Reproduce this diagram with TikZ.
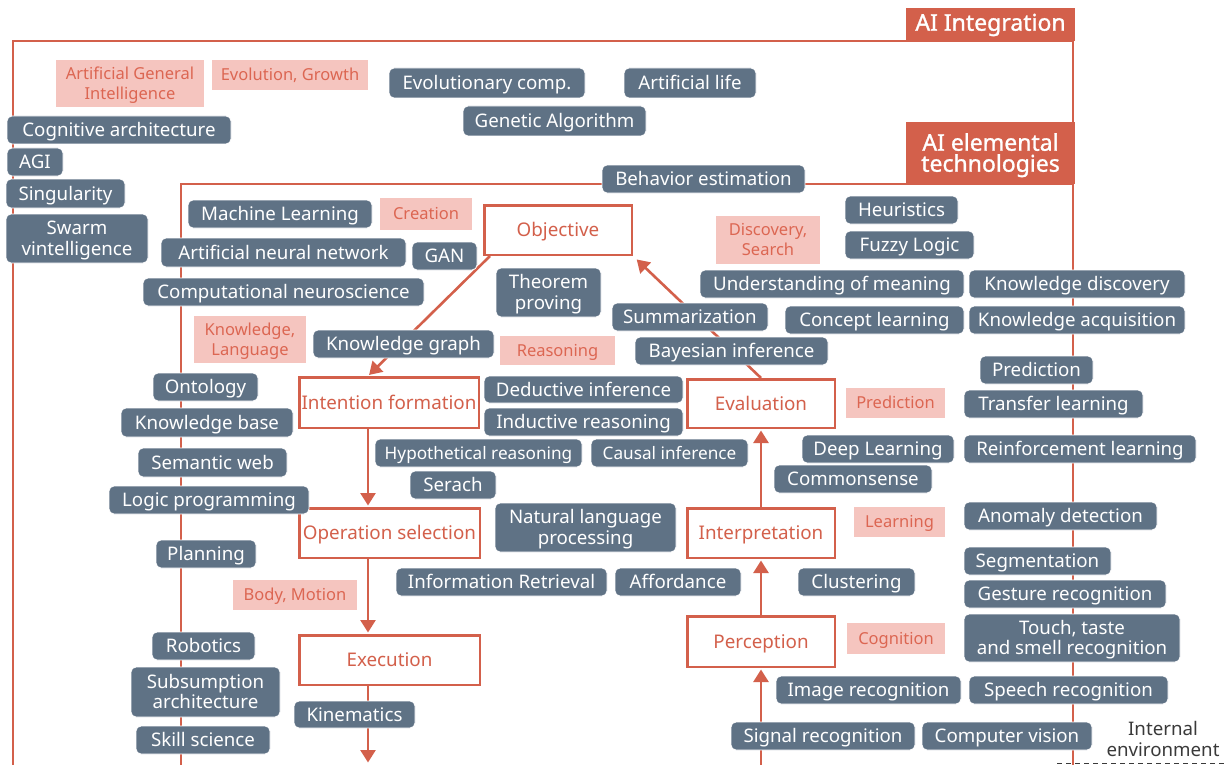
\documentclass[tikz,border=0pt]{standalone}
\usepackage{fontspec}
\setmainfont{Noto Sans}
\newfontfamily\headfamily{Noto Sans}[FakeBold=1.2]
\usetikzlibrary{arrows.meta,calc}
\definecolor{accent}{HTML}{D3604B}
\definecolor{boxgray}{HTML}{5F7285}
\definecolor{cuepink}{HTML}{F5C5BF}
\definecolor{cuetext}{HTML}{DC6652}
\definecolor{envtext}{HTML}{3A3A3A}
\newcommand{\tagfont}{\fontsize{18.7}{20.5}\selectfont}
\newcommand{\tightfont}{\fontsize{17.2}{20.5}\selectfont}
\newcommand{\cuefont}{\fontsize{16.5}{20}\selectfont}
\newcommand{\stagefont}{\fontsize{18.8}{20}\selectfont}
\newcommand{\headfont}{\headfamily\fontsize{23}{21}\selectfont}
\tikzset{
  sz/.style 2 args={minimum width=#1pt, minimum height=#2pt},
  % the text box is cut to the caps so that they sit in the middle;
  % for two lines the box reaches from the caps of the first line to the last baseline
  caps/.style={text height=#1, text depth=0pt},
  tag/.style={fill=boxgray, draw=white, line width=0.8pt, rounded corners=5pt,
    text=white, font=\tagfont, inner sep=0pt, align=center, caps=13.4pt},
  tag2/.style={tag, caps=33.9pt},
  cue/.style={fill=cuepink, text=cuetext, font=\cuefont, inner sep=0pt, align=center, caps=11.8pt},
  cue2/.style={cue, caps=31.8pt},
  stage/.style={draw=accent, line width=2.5pt, fill=white, text=accent,
    font=\stagefont, inner sep=0pt, align=center, caps=13.4pt},
  flow/.style={draw=accent, line width=2.6pt, -{Triangle[length=12.5pt,width=15pt]},
    shorten >=1.5pt},
  frame/.style={draw=accent, line width=2.5pt},
  header/.style={fill=accent, text=white, font=\headfont, inner sep=0pt, align=center},
}
\begin{document}
\begin{tikzpicture}[x=1pt,y=-1pt]
\useasboundingbox (0,0) rectangle (1226,765);

% nested frames: integration (outer) and elemental technologies (inner)
\draw[frame] (13,766) |- (1073,41) -- (1073,766);
\draw[frame] (181,766) |- (1073,184);
\node[header, sz={169}{33}, text height=16.4pt, text depth=4pt] (hint) at (990.5,24.5) {AI Integration};
\node[header, sz={169}{62}, caps=37.4pt] (helem) at (990.5,153) {AI elemental\\technologies};

% process stages
\node[stage, sz={147.5}{49.5}] (objective) at (558,230) {Objective};
\node[stage, sz={179.5}{50.5}] (intention) at (389,402.5) {Intention formation};
\node[stage, sz={147.5}{48.5}] (evaluation) at (761,403.5) {Evaluation};
\node[stage, sz={180.5}{49.5}] (operation) at (389.5,533) {Operation selection};
\node[stage, sz={147.5}{49.5}] (interpretation) at (761,533) {Interpretation};
\node[stage, sz={147.5}{50.5}] (perception) at (761,641.5) {Perception};
\node[stage, sz={180.5}{49.5}] (execution) at (389.5,660) {Execution};

\coordinate (sensein) at (761,766);
\coordinate (actout) at (368,764);

% flow of the cycle (drawn under the technology tags)
\draw[flow] ($(objective.south west)+(7,0)$) -- ($(intention.north west)+(70,0)$);
\draw[flow] ($(intention.south west)+(70,0)$) -- ($(operation.north west)+(70,0)$);
\draw[flow] ($(operation.south west)+(70,0)$) -- ($(execution.north west)+(70,0)$);
\draw[flow] ($(execution.south west)+(70,0)$) -- (actout);
\draw[flow] (sensein) -- (perception.south);
\draw[flow] (perception.north) -- (interpretation.south);
\draw[flow] (interpretation.north) -- (evaluation.south);
\draw[flow, shorten >=5pt] (evaluation.north) -- (objective.south east);

% category cues
\node[cue2, sz={148}{47}] (cagi) at (130,83.5) {Artificial General\\Intelligence};
\node[cue, sz={156}{30}] (cevo) at (290,75) {Evolution, Growth};
\node[cue, sz={92}{32}] (ccreation) at (426,214) {Creation};
\node[cue2, sz={104}{48}] (cdiscovery) at (768,240) {Discovery,\\Search};
\node[cue2, sz={112}{47}] (cknow) at (250,339.5) {Knowledge,\\Language};
\node[cue, sz={115}{29}] (creason) at (557.5,350.5) {Reasoning};
\node[cue, sz={99}{30}] (cpredict) at (895.5,403) {Prediction};
\node[cue, sz={91}{30}] (clearn) at (899.5,522) {Learning};
\node[cue, sz={124}{30}] (cbody) at (295,595) {Body, Motion};
\node[cue, sz={98}{31}] (ccognition) at (896,638.5) {Cognition};

% technology tags
\node[tag, sz={196}{30}] (evocomp) at (487,83) {Evolutionary comp.};
\node[tag, sz={132}{30}] (alife) at (690,83) {Artificial life};
\node[tag, sz={183}{30}] (genetic) at (554.5,121) {Genetic Algorithm};
\node[tag, sz={224}{28}] (cogarch) at (119,130) {Cognitive architecture};
\node[tag, sz={56}{28}] (agi) at (35,162) {AGI};
\node[tag, sz={119}{29}] (singularity) at (65.5,193.5) {Singularity};
\node[tag2, sz={142}{49}] (swarm) at (77,238.5) {Swarm\\vintelligence};
\node[tag, sz={203}{28}] (behavior) at (703.5,179) {Behavior estimation};
\node[tag, sz={184}{28}] (ml) at (280,214) {Machine Learning};
\node[tag, sz={113}{28}] (heuristics) at (901.5,210) {Heuristics};
\node[tag, sz={129}{28}] (fuzzy) at (909.5,245) {Fuzzy Logic};
\node[tag, sz={245}{29}] (ann) at (283.5,252.5) {Artificial neural network};
\node[tag, sz={65}{28}] (gan) at (444.5,256) {GAN};
\node[tag, sz={281}{28}] (compneuro) at (283.5,292) {Computational neuroscience};
\node[tag2, sz={105}{49}] (theorem) at (548.5,292.5) {Theorem\\proving};
\node[tag, sz={264}{28}] (meaning) at (832,284) {Understanding of meaning};
\node[tag, sz={216}{28}] (kdiscovery) at (1077,284) {Knowledge discovery};
\node[tag, sz={156}{28}] (summarization) at (690,317) {Summarization};
\node[tag, sz={179}{28}] (concept) at (874.5,320) {Concept learning};
\node[tag, sz={216}{28}] (kacquisition) at (1077,320) {Knowledge acquisition};
\node[tag, sz={181}{28}] (kgraph) at (403.5,344) {Knowledge graph};
\node[tag, sz={193}{28}] (bayes) at (731.5,351) {Bayesian inference};
\node[tag, sz={105}{28}] (ontology) at (205.5,387) {Ontology};
\node[tag, sz={199}{27}] (deductive) at (583.5,389.5) {Deductive inference};
\node[tag, sz={113}{28}] (prediction) at (1036.5,370) {Prediction};
\node[tag, sz={179}{28}] (transfer) at (1053.5,404) {Transfer learning};
\node[tag, sz={172}{29}] (kbase) at (207,422.5) {Knowledge base};
\node[tag, sz={199}{28}] (inductive) at (583.5,422) {Inductive reasoning};
\node[tag, sz={207}{28}, font=\tightfont] (hypothetical) at (478.5,453) {Hypothetical reasoning};
\node[tag, sz={157}{28}, font=\tightfont] (causal) at (669.5,453) {Causal inference};
\node[tag, sz={152}{28}] (deep) at (878,449) {Deep Learning};
\node[tag, sz={232}{28}] (reinforcement) at (1080,449) {Reinforcement learning};
\node[tag, sz={149}{29}] (semweb) at (212.5,462.5) {Semantic web};
\node[tag, sz={158}{28}] (commonsense) at (853,479) {Commonsense};
\node[tag, sz={86}{28}] (serach) at (453,485) {Serach};
\node[tag, sz={200}{28}] (logicprog) at (209,500) {Logic programming};
\node[tag2, sz={181}{49}] (nlp) at (585.5,527.5) {Natural language\\processing};
\node[tag, sz={193}{28}] (anomaly) at (1060.5,516) {Anomaly detection};
\node[tag, sz={100}{28}] (planning) at (206,554) {Planning};
\node[tag, sz={147}{28}] (segmentation) at (1037.5,561) {Segmentation};
\node[tag, sz={211}{28}] (retrieval) at (501.5,582) {Information Retrieval};
\node[tag, sz={126}{28}] (affordance) at (678,582) {Affordance};
\node[tag, sz={117}{28}] (clustering) at (856.5,582) {Clustering};
\node[tag, sz={202}{28}] (gesture) at (1065,594) {Gesture recognition};
\node[tag2, sz={216}{48}] (touch) at (1072,638) {Touch, taste\\and smell recognition};
\node[tag, sz={103}{28}] (robotics) at (203.5,646) {Robotics};
\node[tag2, sz={149}{50}] (subsumption) at (205.5,692) {Subsumption\\architecture};
\node[tag, sz={185}{28}] (image) at (868.5,690) {Image recognition};
\node[tag, sz={199}{28}] (speech) at (1068.5,690) {Speech recognition};
\node[tag, sz={121}{27}] (kinematics) at (354.5,714.5) {Kinematics};
\node[tag, sz={134}{28}] (skill) at (203,740) {Skill science};
\node[tag, sz={184}{28}] (signal) at (823,736) {Signal recognition};
\node[tag, sz={170}{28}] (cvision) at (1007,736) {Computer vision};

% boundary to the internal environment
\node[text=envtext, font=\fontsize{18.7}{21}\selectfont, align=center, inner sep=0pt,
  caps=34.4pt] (internal) at (1163,739.5) {Internal\\environment};
\coordinate (envleft) at (1057,763.5);
\coordinate (envright) at (1226,763.5);
\draw[envtext, line width=1.2pt, dash pattern=on 5pt off 4pt] (envleft) -- (envright);
\end{tikzpicture}
\end{document}
